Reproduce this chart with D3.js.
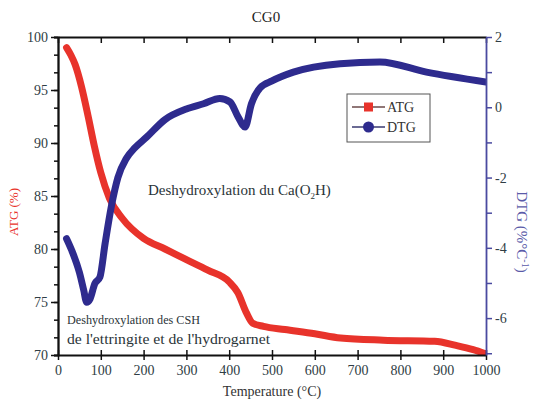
<!DOCTYPE html>
<html>
<head>
<meta charset="utf-8">
<script src="https://cdn.jsdelivr.net/npm/d3@7"></script>
<style>
  body { margin: 0; background: #fff; }
  svg { display: block; font-family: "Liberation Serif", "DejaVu Serif", serif; }
</style>
</head>
<body>
<div id="chart"></div>
<script>
// ATG (mass loss, %)
const atgTemp = [20, 30, 40, 55, 70, 85, 100, 120, 150, 200, 250, 300, 350, 400, 420, 440, 455, 480, 530, 600, 660, 760, 880, 930, 970, 1000];
const atgVal = [99, 98.3, 97.4, 95.3, 92.6, 89.7, 87.2, 84.8, 82.9, 81.0, 80.0, 79.0, 78.0, 76.9, 75.9, 74.0, 73.0, 72.7, 72.4, 72.0, 71.6, 71.4, 71.3, 70.9, 70.5, 70.1];

// DTG (%/°C)
const dtgTemp = [20, 32, 50, 60, 67, 75, 86, 98, 110, 125, 140, 160, 180, 207, 250, 300, 340, 378, 402, 421, 437, 452, 472, 500, 550, 659, 752, 861, 1000];
const dtgVal = [-3.74, -4.07, -4.7, -5.2, -5.55, -5.45, -5.02, -4.83, -3.88, -2.8, -2.0, -1.45, -1.15, -0.85, -0.35, -0.05, 0.1, 0.25, 0.15, -0.28, -0.56, 0.1, 0.55, 0.75, 1.0, 1.24, 1.29, 1.0, 0.72];

const xTicks = [0, 100, 200, 300, 400, 500, 600, 700, 800, 900, 1000];
const leftTicks = [70, 75, 80, 85, 90, 95, 100];
const rightTicks = [-6, -4, -2, 0, 2];
const seriesNames = ["ATG", "DTG"];

const W = 534, H = 403;
const m = { top: 37, right: 48, bottom: 48, left: 58 };
const red = "#e8332b", blue = "#2e2b8e", axisBlue = "#4a4aa0", tickCol = "#2f3d44";

const svg = d3.select("#chart").append("svg")
  .attr("width", W).attr("height", H);

const x = d3.scaleLinear().domain([0, 1000]).range([m.left, W - m.right]);
const yL = d3.scaleLinear().domain([70, 100]).range([H - m.bottom, m.top]);
const yR = d3.scaleLinear().domain([-7.05, 2]).range([H - m.bottom, m.top]);

svg.append("defs").append("clipPath").attr("id", "plot")
  .append("rect")
  .attr("x", m.left).attr("y", m.top)
  .attr("width", W - m.left - m.right).attr("height", H - m.top - m.bottom);

// title
svg.append("text").attr("x", 266).attr("y", 22).attr("text-anchor", "middle")
  .attr("font-size", 15).attr("fill", "#222").text("CG0");

// curves
const atgData = atgTemp.map((t, i) => [t, atgVal[i]]);
const dtgData = dtgTemp.map((t, i) => [t, dtgVal[i]]);

const g = svg.append("g").attr("clip-path", "url(#plot)");
g.append("path").datum(atgData)
  .attr("fill", "none").attr("stroke", red).attr("stroke-width", 7)
  .attr("stroke-linejoin", "round").attr("stroke-linecap", "round")
  .attr("d", d3.line().x(d => x(d[0])).y(d => yL(d[1])).curve(d3.curveMonotoneX));
g.append("path").datum(dtgData)
  .attr("fill", "none").attr("stroke", blue).attr("stroke-width", 7)
  .attr("stroke-linejoin", "round").attr("stroke-linecap", "round")
  .attr("d", d3.line().x(d => x(d[0])).y(d => yR(d[1])).curve(d3.curveMonotoneX));

// axes
const bottomAxis = svg.append("g").attr("transform", `translate(0,${H - m.bottom})`)
  .call(d3.axisBottom(x).tickValues(xTicks).tickSizeInner(6).tickSizeOuter(0).tickPadding(4)
    .tickFormat(d => String(d)));
bottomAxis.selectAll(".tick line").attr("y1", -5).attr("y2", 5);

const topAxis = svg.append("g").attr("transform", `translate(0,${m.top})`)
  .call(d3.axisTop(x).tickValues(xTicks).tickSizeInner(-6).tickSizeOuter(0).tickFormat(""));

const leftMinor = d3.range(70, 100.01, 5 / 3);
const leftMinorAxis = svg.append("g").attr("transform", `translate(${m.left},0)`)
  .call(d3.axisLeft(yL).tickValues(leftMinor).tickSize(4).tickFormat(""));
const leftAxis = svg.append("g").attr("transform", `translate(${m.left},0)`)
  .call(d3.axisLeft(yL).tickValues(leftTicks).tickSize(7).tickSizeOuter(0).tickPadding(3));

const rightAxis = svg.append("g").attr("transform", `translate(${W - m.right},0)`)
  .call(d3.axisRight(yR).tickValues(d3.range(-7, 2.01, 1)).tickSize(6).tickSizeOuter(0)
    .tickFormat(d => rightTicks.includes(d) ? String(d) : ""));

[bottomAxis, topAxis, leftAxis, leftMinorAxis].forEach(a => {
  a.select(".domain").attr("stroke", "#111").attr("stroke-width", 1.8);
  a.selectAll(".tick line").attr("stroke", "#111").attr("stroke-width", 1.5);
});
rightAxis.select(".domain").attr("stroke", axisBlue).attr("stroke-width", 1.8);
rightAxis.selectAll(".tick line").attr("stroke", axisBlue).attr("stroke-width", 1.5);

svg.selectAll(".tick text")
  .attr("font-family", "'Liberation Serif', serif")
  .attr("font-size", 14).attr("fill", tickCol);

// axis titles
svg.append("text").attr("x", 272).attr("y", 396).attr("text-anchor", "middle")
  .attr("font-size", 14).attr("fill", "#333").text("Temperature (°C)");

svg.append("text").attr("transform", "translate(18,212) rotate(-90)")
  .attr("text-anchor", "middle").attr("font-size", 13).attr("fill", red)
  .text("ATG (%)");

const rt = svg.append("text").attr("transform", "translate(517,232) rotate(90)")
  .attr("text-anchor", "middle").attr("font-size", 15).attr("fill", "#5a5aa8");
rt.append("tspan").text("DTG (%°C");
rt.append("tspan").attr("dy", -5).attr("font-size", 10).text("-1");
rt.append("tspan").attr("dy", 5).text(")");

// annotations
const a1 = svg.append("text").attr("x", 148).attr("y", 195)
  .attr("font-size", 15).attr("fill", "#2a3438");
a1.append("tspan").text("Deshydroxylation du Ca(O");
a1.append("tspan").attr("dy", 4).attr("font-size", 9).text("2");
a1.append("tspan").attr("dy", -4).text("H)");

svg.append("text").attr("x", 67).attr("y", 324)
  .attr("font-size", 12).attr("fill", "#2a3438")
  .attr("textLength", 133).attr("lengthAdjust", "spacingAndGlyphs")
  .text("Deshydroxylation des CSH");
svg.append("text").attr("x", 67).attr("y", 344)
  .attr("font-size", 15).attr("fill", "#2a3438")
  .attr("textLength", 203).attr("lengthAdjust", "spacingAndGlyphs")
  .text("de l'ettringite et de l'hydrogarnet");

// legend
const lg = svg.append("g").attr("transform", "translate(347,94)");
lg.append("rect").attr("width", 83).attr("height", 48)
  .attr("fill", "#fff").attr("stroke", "#555").attr("stroke-width", 1);
seriesNames.forEach((name, i) => {
  const yy = 13 + i * 20;
  lg.append("line").attr("x1", 5).attr("x2", 38).attr("y1", yy).attr("y2", yy)
    .attr("stroke", i === 0 ? "#6b4a4a" : "#3a3a70").attr("stroke-width", 1.5);
  if (i === 0) {
    lg.append("rect").attr("x", 17).attr("y", yy - 4.5).attr("width", 9).attr("height", 9).attr("fill", red);
  } else {
    lg.append("circle").attr("cx", 21.5).attr("cy", yy).attr("r", 5.5).attr("fill", blue);
  }
  lg.append("text").attr("x", 40).attr("y", yy + 5)
    .attr("font-size", 14).attr("fill", "#333").text(name);
});
</script>
</body>
</html>
